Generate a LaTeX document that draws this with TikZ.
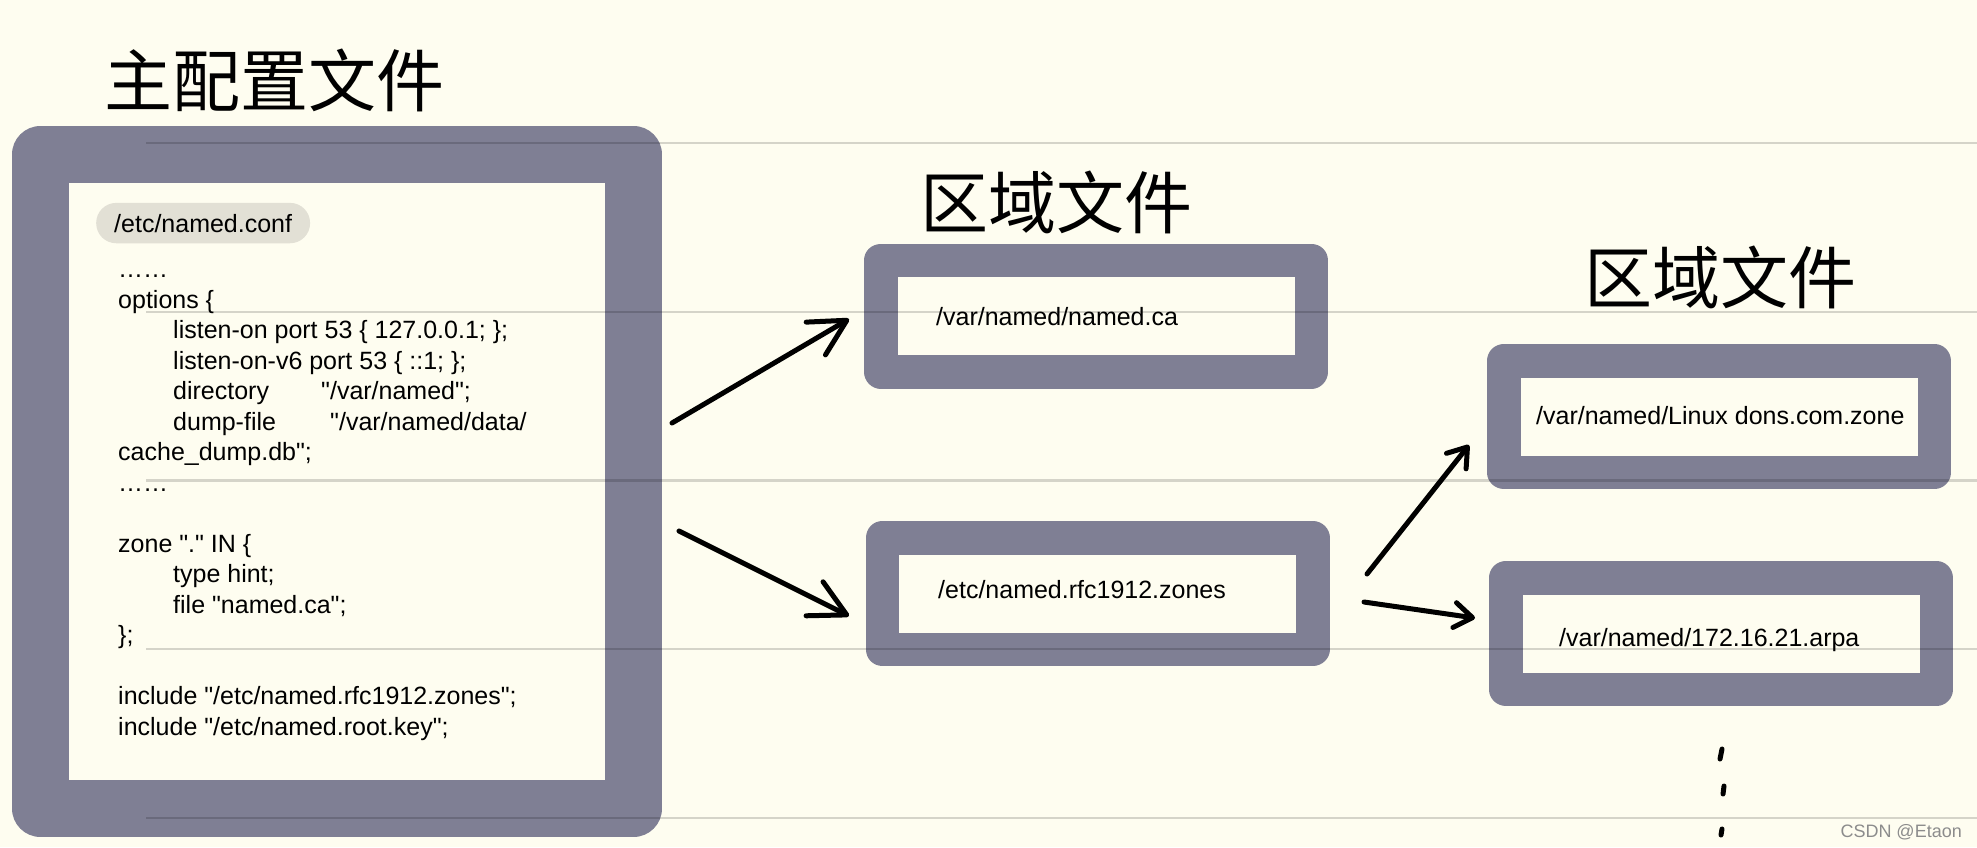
\documentclass[tikz,border=0pt]{standalone}
\usepackage{fontspec}
\setmainfont{Liberation Sans}[Ligatures=TeXOff]
\newfontfamily\cjk{Noto Sans CJK SC}
\usetikzlibrary{arrows.meta}

\definecolor{paper}{RGB}{254,253,240}
\definecolor{boxgray}{RGB}{127,127,148}
\definecolor{markgray}{RGB}{226,224,213}

\tikzset{
  bigbox/.style={draw=boxgray, fill=paper, line width=57pt, line join=round,
    minimum width=593pt, minimum height=654pt, inner sep=0pt},
  zonebox/.style={draw=boxgray, fill=paper, line width=33.5pt, line join=round,
    minimum width=430.5pt, minimum height=111.5pt, inner sep=0pt},
  fname/.style={anchor=base west, inner sep=0pt, font=\fontsize{25}{30.47}\selectfont},
  confmark/.style={fname, fill=markgray, rounded corners=20pt, inner xsep=18pt, inner ysep=11pt},
  title/.style={font=\cjk\fontsize{68}{68}\selectfont, inner sep=0pt},
  hand/.style={line width=5pt, line cap=round, line join=round},
  bigtip/.style={hand, -{Straight Barb[round, length=36pt, width=38pt]}},
  smalltip/.style={hand, -{Straight Barb[round, length=18pt, width=25pt]}},
  ruled/.style={black, opacity=0.16, line width=2.7pt}
}

\begin{document}
\begin{tikzpicture}[x=1pt, y=-1pt]
\useasboundingbox (0,0) rectangle (1977,847);
\fill[paper] (0,0) rectangle (1977,847);

% boxes
\node[bigbox] (named) at (337,481.5) {};
\node[zonebox] (ca) at (1096,316) {};
\node[zonebox] (rfc) at (1097.5,593.5) {};
\node[zonebox] (dons) at (1719,416.5) {};
\node[zonebox] (arpa) at (1721,633.5) {};

% paper lines
\foreach \y in {143,312,480.5,649,818}
  \draw[ruled] (146,\y) -- (1977,\y);

% titles
\node[title] (mainTitle) at (274,80) {主配置文件};
\node[title] (zoneTitleA) at (1056,202) {区域文件};
\node[title] (zoneTitleB) at (1720,277) {区域文件};

% main config text
\node[confmark] (conf) at (96,232) {/etc/named.conf};
\node[fname, align=left] (body) at (118,735) {……\\
options \{\\
\hspace*{55pt}listen-on port 53 \{ 127.0.0.1; \};\\
\hspace*{55pt}listen-on-v6 port 53 \{ ::1; \};\\
\hspace*{55pt}\makebox[148pt][l]{directory}"/var/named";\\
\hspace*{55pt}\makebox[157pt][l]{dump-file}"/var/named/data/\\
cache\_dump.db";\\
……\\[30.47pt]
zone "." IN \{\\
\hspace*{55pt}type hint;\\
\hspace*{55pt}file "named.ca";\\
\};\\[30.47pt]
include "/etc/named.rfc1912.zones";\\
include "/etc/named.root.key";};

% zone file names
\node[fname] (caTxt) at (936,325) {/var/named/named.ca};
\node[fname] (rfcTxt) at (938,598) {/etc/named.rfc1912.zones};
\node[fname] (donsTxt) at (1536,424) {/var/named/Linux dons.com.zone};
\node[fname] (arpaTxt) at (1559,646) {/var/named/172.16.21.arpa};

% arrows
\draw[bigtip] ([shift={(10,-58.5)}]named.east) -- ([shift={(-15,3)}]ca.west);
\draw[bigtip] ([shift={(17,49.5)}]named.east) -- ([shift={(-16.5,22.5)}]rfc.west);
\draw[smalltip] ([shift={(37.5,-19.5)}]rfc.east) -- ([shift={(-18,28.5)}]dons.west);
\draw[smalltip] ([shift={(34.5,8.5)}]rfc.east) -- ([shift={(-14,-15.5)}]arpa.west);

% more files
\draw[hand] (1722,749) -- (1720,759);
\draw[hand] (1724,786) -- (1723,794);
\draw[hand] (1722,829) -- (1721,835);

\node[anchor=base east, inner sep=0pt, font=\fontsize{18}{18}\selectfont, text=black!45] (credit) at (1962,837) {CSDN @Etaon};
\end{tikzpicture}
\end{document}
